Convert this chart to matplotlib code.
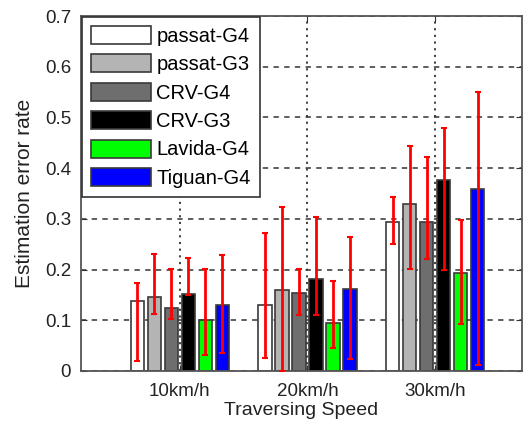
import numpy as np
import matplotlib.pyplot as plt

plt.rcParams['font.family'] = ['Liberation Sans', 'DejaVu Sans']

# Data
speeds = ["10km/h", "20km/h", "30km/h"]
series = ["passat-G4", "passat-G3", "CRV-G4", "CRV-G3", "Lavida-G4", "Tiguan-G4"]
colors = ["#ffffff", "#b4b4b4", "#6e6e6e", "#000000", "#00ff00", "#0000ff"]

passat_g4 = [0.137, 0.130, 0.293]
passat_g3 = [0.145, 0.160, 0.330]
crv_g4 = [0.124, 0.153, 0.293]
crv_g3 = [0.151, 0.181, 0.376]
lavida_g4 = [0.101, 0.094, 0.194]
tiguan_g4 = [0.130, 0.162, 0.359]

# error bar ends (low / high)
passat_g4_lo, passat_g4_hi = [0.020, 0.026, 0.251], [0.173, 0.273, 0.343]
passat_g3_lo, passat_g3_hi = [0.112, 0.000, 0.201], [0.231, 0.323, 0.443]
crv_g4_lo, crv_g4_hi = [0.102, 0.110, 0.221], [0.202, 0.201, 0.422]
crv_g3_lo, crv_g3_hi = [0.150, 0.110, 0.199], [0.222, 0.303, 0.480]
lavida_g4_lo, lavida_g4_hi = [0.032, 0.046, 0.093], [0.202, 0.178, 0.298]
tiguan_g4_lo, tiguan_g4_hi = [0.035, 0.023, 0.012], [0.229, 0.264, 0.550]

values = [passat_g4, passat_g3, crv_g4, crv_g3, lavida_g4, tiguan_g4]
lows = [passat_g4_lo, passat_g3_lo, crv_g4_lo, crv_g3_lo, lavida_g4_lo, tiguan_g4_lo]
highs = [passat_g4_hi, passat_g3_hi, crv_g4_hi, crv_g3_hi, lavida_g4_hi, tiguan_g4_hi]

fig = plt.figure(figsize=(5.25, 4.22), dpi=100)
ax = fig.add_axes([0.154, 0.121, 0.840, 0.841])

x = np.arange(1, len(speeds) + 1)
step = 0.133
width = 0.106

for i, (name, col) in enumerate(zip(series, colors)):
    xs = x + (i - 2.5) * step
    v = np.array(values[i])
    ax.bar(xs, v, width, color=col, edgecolor="#3a3a3a", linewidth=1.2,
           label=name, zorder=2)
    err = [v - np.array(lows[i]), np.array(highs[i]) - v]
    ax.errorbar(xs, v, yerr=err, fmt="none", ecolor="red", elinewidth=2,
                capsize=2.5, capthick=1.5, zorder=3)

ax.set_xlim(0.224, 3.68)
ax.set_ylim(0, 0.7)
ax.set_xticks(x)
ax.set_xticklabels(speeds)
ax.set_yticks(np.arange(0, 0.71, 0.1))
ax.set_yticklabels(["0", "0.1", "0.2", "0.3", "0.4", "0.5", "0.6", "0.7"])
ax.tick_params(direction="in", top=True, right=True, labelsize=13.5, length=4,
               colors="#333333", labelcolor="#222222")
ax.tick_params(axis="x", pad=9)
ax.tick_params(axis="y", pad=7)

ax.set_axisbelow(True)
ax.yaxis.grid(True, linestyle=(0, (3.5, 3.5)), color="#333333", linewidth=1.1)
ax.xaxis.grid(True, linestyle=(0, (1.2, 2.5)), color="#333333", linewidth=1.3)
for s in ax.spines.values():
    s.set_color("#555555")
    s.set_linewidth(1.3)

ax.set_xlabel("Traversing Speed", fontsize=14, color="#222222", labelpad=1)
ax.set_ylabel("Estimation error rate", fontsize=15, color="#222222", labelpad=8)

leg = ax.legend(loc="upper left", fontsize=14.5, handlelength=3.0,
                handleheight=1.0, labelspacing=0.42, handletextpad=0.25,
                borderpad=0.45, borderaxespad=0.05, fancybox=False,
                framealpha=1, edgecolor="#333333")
leg.get_frame().set_linewidth(1.2)

fig.savefig("out.png", dpi=100)
